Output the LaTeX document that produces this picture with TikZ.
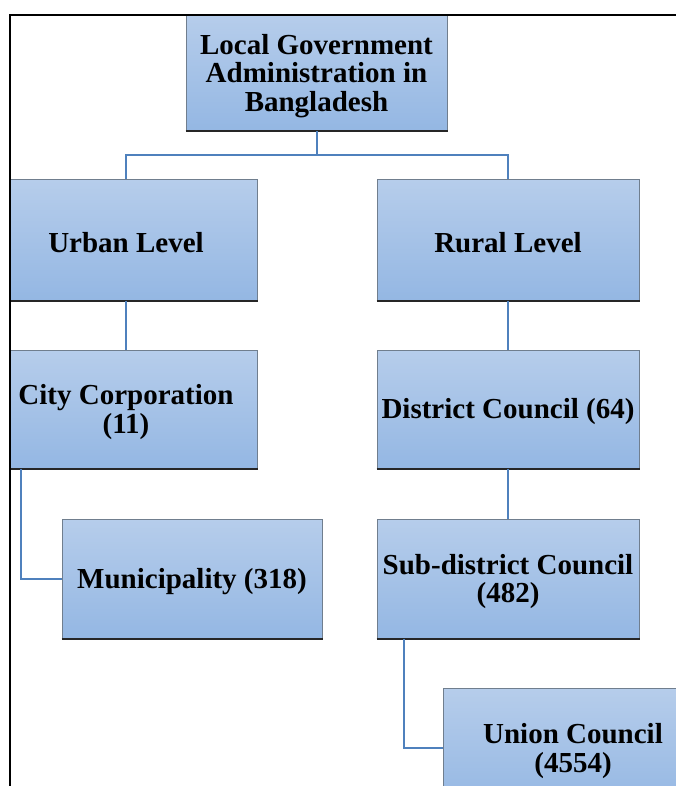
\documentclass[tikz,border=0pt]{standalone}
\usepackage{fontspec}
\setmainfont{Liberation Serif}
\usetikzlibrary{calc}
\definecolor{boxtop}{RGB}{182,205,235}
\definecolor{boxbot}{RGB}{148,183,227}
\definecolor{boxedge}{RGB}{112,126,142}
\definecolor{linkblue}{RGB}{79,129,189}
\tikzset{
  orgbox/.style={rectangle, top color=boxtop, bottom color=boxbot, draw=boxedge,
    line width=1pt, inner sep=0pt, minimum width=262pt, minimum height=118pt},
  boxtext/.style={inner sep=0pt, align=center, yshift=-3pt,
    font=\bfseries\fontsize{29}{28.5}\selectfont},
  link/.style={draw=linkblue, line width=2pt},
  botline/.style={draw=black!85, line width=2pt},
  frameline/.style={draw=black, line width=1.2pt},
}
\begin{document}
\begin{tikzpicture}[x=1pt,y=1pt]
\useasboundingbox (0,0) rectangle (676,-786);
\begin{scope}
\clip (10,-15) rectangle (676,-786);
% boxes
\node[orgbox, minimum width=261pt, minimum height=116pt] (top) at (316.5,-73) {};
\node[orgbox, minimum height=120pt] (urban) at (126,-240) {};
\node[orgbox, minimum height=120pt] (rural) at (508,-240) {};
\node[orgbox] (city) at (126,-409) {};
\node[orgbox] (district) at (508,-409) {};
\node[orgbox, minimum width=260pt, minimum height=119pt] (muni) at (192,-578.5) {};
\node[orgbox, minimum height=119pt] (sub) at (508,-578.5) {};
\node[orgbox, minimum width=260pt, minimum height=120pt] (union) at (573,-748) {};
% bottom shadow edges
\foreach \n in {top,urban,rural,city,district,muni,sub,union}{
  \draw[botline] (\n.south west) -- (\n.south east);
}
% texts
\node[boxtext] (topT) at (top) {Local Government\\Administration in\\Bangladesh};
\node[boxtext] (urbanT) at (urban) {Urban Level};
\node[boxtext] (ruralT) at (rural) {Rural Level};
\node[boxtext] (cityT) at (city) {City Corporation\\(11)};
\node[boxtext] (districtT) at (district) {District Council (64)};
\node[boxtext] (muniT) at (muni) {Municipality (318)};
\node[boxtext] (subT) at (sub) {Sub-district Council\\(482)};
\node[boxtext] (unionT) at (union) {Union Council\\(4554)};
% connectors
\draw[link] (top.south) -- ++(0,-24) coordinate (tj);
\draw[link] (urban.north) |- (tj) -| (rural.north);
\draw[link] (urban.south) -- (city.north);
\draw[link] (rural.south) -- (district.north);
\draw[link] (district.south) -- (sub.north);
\draw[link] ($(city.south west)+(26,0)$) coordinate (cj) |- (muni.west);
\draw[link] ($(sub.south west)+(27,0)$) coordinate (sj) |- (union.west);
\end{scope}
% frame
\draw[frameline] (10,-786) -- (10,-15) -- (676,-15);
\end{tikzpicture}
\end{document}
